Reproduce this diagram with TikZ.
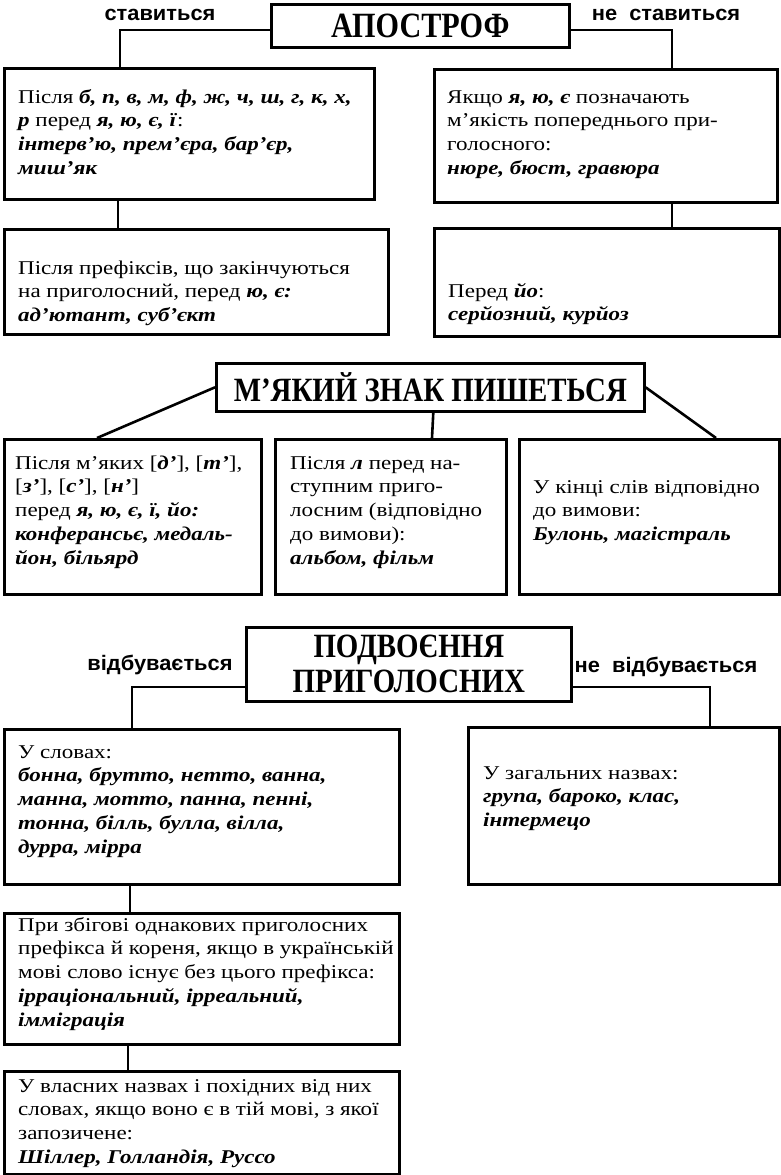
\documentclass[tikz,border=0pt]{standalone}
\usepackage{fontspec}
\setmainfont{Liberation Serif}[FakeStretch=1.18]
\newfontfamily\titlefont{Liberation Serif}[UprightFont=* Bold, FakeStretch=0.85]
\newfontfamily\labelfont{Liberation Sans}[UprightFont=* Bold, FakeStretch=1.04]
\newcommand\bi[1]{\textbf{\textit{#1}}}
\usetikzlibrary{calc}
\begin{document}
\begin{tikzpicture}[x=1pt,y=-1pt,
  box/.style={draw, line width=2.6pt, rectangle, inner sep=0pt, anchor=north west},
  txt/.style={anchor=base west, align=left, inner sep=0pt, font=\fontsize{19.5}{23.8}\selectfont},
  conn/.style={line width=2.6pt},
  ttl/.style={font=\titlefont\fontsize{34}{35}\selectfont, align=center},
  lbl/.style={font=\labelfont\fontsize{21}{22}\selectfont, inner sep=0pt}]
\useasboundingbox (0,0) rectangle (781,1175);

% titles
\node[box, ttl, font=\titlefont\fontsize{35.5}{36}\selectfont, minimum width=298pt, minimum height=43pt] (apos) at (270,3) {АПОСТРОФ};
\node[box, ttl, minimum width=428pt, minimum height=48pt] (mzn) at (215,362) {М’ЯКИЙ ЗНАК ПИШЕТЬСЯ};
\node[box, ttl, minimum width=325pt, minimum height=74pt] (pidv) at (245,626) {ПОДВОЄННЯ\\ПРИГОЛОСНИХ};

% labels
\node[lbl] (l1) at (160,15) {ставиться};
\node[lbl] (l2) at (666,15) {не\ \ ставиться};
\node[lbl] (l3) at (160,665) {відбувається};
\node[lbl] (l4) at (666,667) {не\ \ відбувається};

% boxes
\node[box, minimum width=370pt, minimum height=131pt] (b1) at (3,67) {};
\node[box, minimum width=343pt, minimum height=133pt] (b2) at (433,68) {};
\node[box, minimum width=384pt, minimum height=105pt] (b3) at (3,228) {};
\node[box, minimum width=345pt, minimum height=108pt] (b4) at (433,227) {};
\node[box, minimum width=257pt, minimum height=155pt] (b5) at (3,438) {};
\node[box, minimum width=231pt, minimum height=155pt] (b6) at (274,438) {};
\node[box, minimum width=260pt, minimum height=155pt] (b7) at (518,438) {};
\node[box, minimum width=395pt, minimum height=155pt] (b8) at (3,728) {};
\node[box, minimum width=311pt, minimum height=157pt] (b9) at (467,726) {};
\node[box, minimum width=395pt, minimum height=131pt] (b10) at (3,912) {};
\node[box, minimum width=395pt, minimum height=103pt] (b11) at (3,1070) {};

% texts (anchor = baseline of the last line)
\node[txt] (t1) at (18,174.4) {Після \bi{б, п, в, м, ф, ж, ч, ш, г, к, х,}\\\bi{р} перед \bi{я, ю, є, ї}:\\\bi{інтерв’ю, прем’єра, бар’єр,}\\\bi{миш’як}};
\node[txt] (t2) at (447,174.4) {Якщо \bi{я, ю, є} позначають\\м’якість попереднього при-\\голосного:\\\bi{нюре, бюст, гравюра}};
\node[txt] (t3) at (18,321.6) {Після префіксів, що закінчуються\\на приголосний, перед \bi{ю, є:}\\\bi{ад’ютант, суб’єкт}};
\node[txt] (t4) at (448,320.8) {Перед \bi{йо}:\\\bi{серйозний, курйоз}};
\node[txt] (t5) at (15,564.2) {Після м’яких [\bi{д’}], [\bi{т’}],\\{}[\bi{з’}], [\bi{с’}], [\bi{н’}]\\перед \bi{я, ю, є, ї, йо:}\\\bi{конферансьє, медаль-}\\\bi{йон, більярд}};
\node[txt] (t6) at (290,564.2) {Після \bi{л} перед на-\\ступним приго-\\лосним (відповідно\\до вимови):\\\bi{альбом, фільм}};
\node[txt] (t7) at (533,540.6) {У кінці слів відповідно\\до вимови:\\\bi{Булонь, магістраль}};
\node[txt] (t8) at (18,853.2) {У словах:\\\bi{бонна, брутто, нетто, ванна,}\\\bi{манна, мотто, панна, пенні,}\\\bi{тонна, білль, булла, вілла,}\\\bi{дурра, мірра}};
\node[txt] (t9) at (483,826.6) {У загальних назвах:\\\bi{група, бароко, клас,}\\\bi{інтермецо}};
\node[txt] (t10) at (18,1026.2) {При збігові однакових приголосних\\префікса й кореня, якщо в українській\\мові слово існує без цього префікса:\\\bi{ірраціональний, ірреальний,}\\\bi{імміграція}};
\node[txt] (t11) at (18,1163.4) {У власних назвах і похідних від них\\словах, якщо воно є в тій мові, з якої\\запозичене:\\\bi{Шіллер, Голландія, Руссо}};

% connectors
\draw[conn] (apos.west |- 0,30) -| ($(b1.north west)+(117,0)$);
\draw[conn] (apos.east |- 0,30) -| ($(b2.north west)+(239,0)$);
\draw[conn] ($(b1.south west)+(115,0)$) -- ($(b3.north west)+(115,0)$);
\draw[conn] ($(b2.south west)+(239,0)$) -- ($(b4.north west)+(239,0)$);
\draw[conn] (mzn.west) -- ($(b5.north west)+(94,0)$);
\draw[conn] (mzn.east) -- ($(b7.north west)+(198,0)$);
\draw[conn] ($(mzn.south)+(3,0)$) -- ($(b6.north west)+(158,0)$);
\draw[conn] (pidv.west |- 0,687) -| ($(b8.north west)+(129,0)$);
\draw[conn] (pidv.east |- 0,687) -| ($(b9.north west)+(243,0)$);
\draw[conn] ($(b8.south west)+(127,0)$) -- ($(b10.north west)+(127,0)$);
\draw[conn] ($(b10.south west)+(125,0)$) -- ($(b11.north west)+(125,0)$);
\end{tikzpicture}
\end{document}
